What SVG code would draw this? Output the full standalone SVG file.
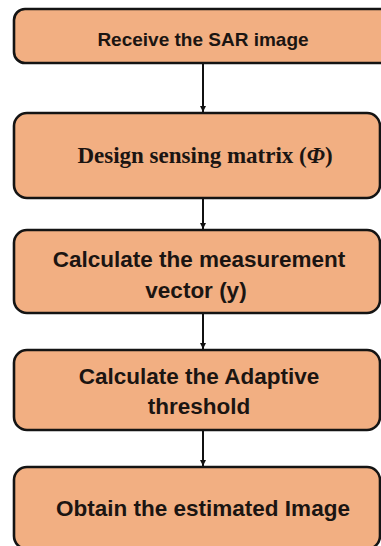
<svg xmlns="http://www.w3.org/2000/svg" width="381" height="546" viewBox="0 0 381 546">
  <defs>
    <marker id="ah" viewBox="0 0 10 10" refX="10" refY="5" markerWidth="3.2" markerHeight="3.2" orient="auto" markerUnits="strokeWidth">
      <path d="M0,0 L10,5 L0,10 Z" fill="#111"/>
    </marker>
  </defs>
  <style>
    .box { fill: #F2AF82; stroke: #141414; stroke-width: 2.6; }
    .sans { font-family: "Liberation Sans", Arial, sans-serif; font-weight: bold; fill: #1b1512; text-anchor: middle; }
    .serif { font-family: "Liberation Serif", "Times New Roman", serif; font-weight: bold; fill: #1b1512; text-anchor: middle; }
    .conn { stroke: #111; stroke-width: 2; fill: none; }
  </style>
  <rect width="381" height="546" fill="#ffffff"/>

  <g id="connectors">
    <line class="conn" x1="203" y1="63" x2="203" y2="112" marker-end="url(#ah)"/>
    <line class="conn" x1="203" y1="198" x2="203" y2="229" marker-end="url(#ah)"/>
    <line class="conn" x1="203" y1="313" x2="203" y2="349" marker-end="url(#ah)"/>
    <line class="conn" x1="203" y1="430" x2="203" y2="466" marker-end="url(#ah)"/>
  </g>

  <g id="n1">
    <rect class="box" x="14" y="9" width="390" height="54" rx="11"/>
    <text class="sans" x="203" y="46" font-size="19">Receive the SAR image</text>
  </g>

  <g id="n2">
    <rect class="box" x="14" y="113" width="366" height="85" rx="13"/>
    <text class="serif" x="205" y="163" font-size="23">Design sensing matrix (<tspan font-style="italic">Φ</tspan>)</text>
  </g>

  <g id="n3">
    <rect class="box" x="14" y="230" width="366" height="83" rx="13"/>
    <text class="sans" x="199" y="267" font-size="22.5">Calculate the measurement</text>
    <text class="sans" x="196" y="298" font-size="22.5">vector (y)</text>
  </g>

  <g id="n4">
    <rect class="box" x="14" y="350" width="366" height="80" rx="13"/>
    <text class="sans" x="199" y="384" font-size="22.5">Calculate the Adaptive</text>
    <text class="sans" x="199" y="414" font-size="22.5">threshold</text>
  </g>

  <g id="n5">
    <rect class="box" x="14" y="467" width="366" height="82" rx="13"/>
    <text class="sans" x="203" y="516" font-size="22.5">Obtain the estimated Image</text>
  </g>
</svg>
